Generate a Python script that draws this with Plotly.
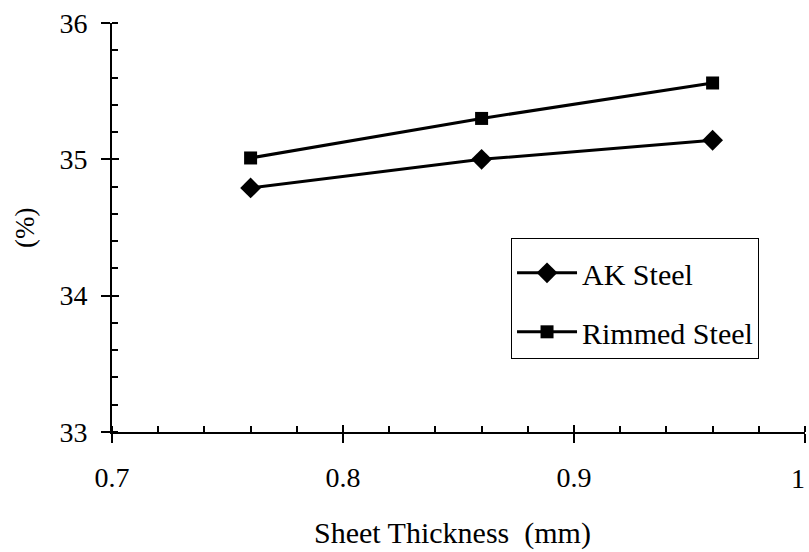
import plotly.graph_objects as go

thickness = [0.76, 0.86, 0.96]
ak_steel = [34.79, 35.00, 35.14]
rimmed_steel = [35.01, 35.30, 35.56]
x_ticks = [0.7, 0.8, 0.9, 1.0]
x_ticktext = ["0.7", "0.8", "0.9", "1"]
y_ticks = [33, 34, 35, 36]

FONT = "Liberation Serif, Times New Roman, serif"

# the last label ("1") sits at the right page edge; it is drawn by the overlay axis
# with a small shift so that it stays inside the page
main_text = x_ticktext[:-1] + [""]
edge_text = [""] * (len(x_ticktext) - 1) + [x_ticktext[-1]]

fig = go.Figure()
fig.add_trace(go.Scatter(x=thickness, y=ak_steel, mode="lines+markers", name="AK Steel",
                         legendgroup="ak",
                         line=dict(color="black", width=3),
                         marker=dict(symbol="diamond", size=16, color="black")))
fig.add_trace(go.Scatter(x=thickness, y=rimmed_steel, mode="lines+markers", name="Rimmed Steel",
                         legendgroup="rim",
                         line=dict(color="black", width=3),
                         marker=dict(symbol="square", size=13, color="black")))
# invisible trace to carry the overlay axes (inner half of crossing major ticks)
fig.add_trace(go.Scatter(x=[thickness[0]], y=[ak_steel[0]], xaxis="x2", yaxis="y2",
                         mode="markers", marker=dict(opacity=0), showlegend=False, hoverinfo="skip"))

fig.update_layout(
    width=809, height=552,
    margin=dict(l=112, r=4, t=23, b=120, autoexpand=False),
    paper_bgcolor="white", plot_bgcolor="white",
    font=dict(family=FONT, size=28, color="black"),
    showlegend=True,
    legend=dict(x=0.5758, y=0.4743, xanchor="left", yanchor="top",
                bordercolor="black", borderwidth=1, bgcolor="white",
                font=dict(family=FONT, size=30, color="black"),
                title=dict(text=" ", font=dict(size=6)),
                itemwidth=60, tracegroupgap=17),
    xaxis=dict(range=[0.7, 1.0], tickvals=x_ticks, ticktext=main_text, automargin=False,
               showgrid=False, zeroline=False, showline=True, linecolor="black", linewidth=2,
               ticks="outside", ticklen=9, tickwidth=2, tickcolor="black",
               ticklabelstandoff=10, ticklabeloverflow="allow",
               minor=dict(dtick=0.02, ticks="inside", ticklen=6, tickwidth=1.5, tickcolor="black"),
               tickfont=dict(family=FONT, size=28)),
    yaxis=dict(range=[33, 36], tickvals=y_ticks, automargin=False,
               showgrid=False, zeroline=False, showline=True, linecolor="black", linewidth=2,
               ticks="outside", ticklen=9, tickwidth=2, tickcolor="black",
               ticklabelstandoff=8, ticklabeloverflow="allow",
               minor=dict(dtick=0.2, ticks="inside", ticklen=6, tickwidth=1.5, tickcolor="black"),
               tickfont=dict(family=FONT, size=28)),
    xaxis2=dict(overlaying="x", anchor="y2", range=[0.7, 1.0], tickvals=x_ticks, ticktext=edge_text,
                automargin=False, showticklabels=True, ticklabelshift=-7,
                ticklabelstandoff=27, ticklabeloverflow="allow",
                tickfont=dict(family=FONT, size=28),
                showgrid=False, zeroline=False, showline=False,
                ticks="inside", ticklen=7, tickwidth=2, tickcolor="black"),
    yaxis2=dict(overlaying="y", anchor="x2", range=[33, 36], tickvals=y_ticks, automargin=False,
                showticklabels=False, showgrid=False, zeroline=False, showline=False,
                ticks="inside", ticklen=7, tickwidth=2, tickcolor="black"),
    annotations=[
        dict(text="Sheet Thickness  (mm)", xref="paper", yref="paper", x=0.491, y=-0.248,
             xanchor="center", yanchor="middle", showarrow=False,
             font=dict(family=FONT, size=30)),
        dict(text="(%)", xref="paper", yref="paper", x=-0.1255, y=0.4988, textangle=-90,
             xanchor="center", yanchor="middle", showarrow=False,
             font=dict(family=FONT, size=27)),
    ],
)

fig.write_html("out.html", config={"displayModeBar": False},
               post_script="document.body.style.margin='0';document.body.style.overflow='hidden';")
